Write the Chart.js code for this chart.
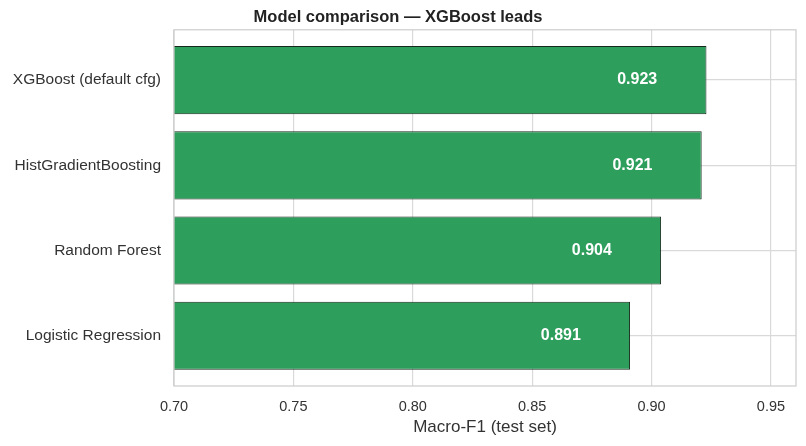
<!DOCTYPE html>
<html lang="en">
<head>
  <meta charset="UTF-8" />
  <title>Model comparison</title>
  <script src="https://cdn.jsdelivr.net/npm/chart.js"></script>
  <style>
    html, body { margin: 0; padding: 0; background: #fff; }
    #wrap { width: 806px; height: 446px; }
  </style>
</head>
<body>
  <div id="wrap"><canvas id="modelChart"></canvas></div>

  <script>
    // data (top to bottom)
    const models = ['XGBoost (default cfg)', 'HistGradientBoosting', 'Random Forest', 'Logistic Regression'];
    const macroF1 = [0.923, 0.921, 0.904, 0.891];
    const xTicks = [0.70, 0.75, 0.80, 0.85, 0.90, 0.95];

    const barColor = '#2e9e5c';
    const gridColor = '#d9d9d9';
    const textColor = '#333333';
    const fontFamily = '"Liberation Sans", Arial, sans-serif';

    // light grey box round the plot, plus values printed inside the bars
    const frameAndLabels = {
      id: 'frameAndLabels',
      afterDatasetsDraw(chart) {
        const { ctx, chartArea: a, scales } = chart;
        ctx.save();
        ctx.strokeStyle = '#cccccc';
        ctx.lineWidth = 1.2;
        ctx.strokeRect(a.left, a.top, a.right - a.left, a.bottom - a.top);

        ctx.fillStyle = '#ffffff';
        ctx.font = 'bold 16px ' + fontFamily;
        ctx.textAlign = 'center';
        ctx.textBaseline = 'middle';
        macroF1.forEach((v, i) => {
          const x = scales.x.getPixelForValue(v - 0.029);
          const y = scales.y.getPixelForValue(i);
          ctx.fillText(v.toFixed(3), x, y);
        });
        ctx.restore();
      }
    };

    const ctx = document.getElementById('modelChart').getContext('2d');
    new Chart(ctx, {
      type: 'bar',
      data: {
        datasets: [{
          data: macroF1.map((v, i) => ({ x: v, y: i })),
          backgroundColor: barColor,
          borderColor: '#14291c',
          borderWidth: 1,
          borderSkipped: false,
          categoryPercentage: 1.0,
          barPercentage: 0.8,
          clip: 0
        }]
      },
      options: {
        indexAxis: 'y',
        responsive: true,
        maintainAspectRatio: false,
        animation: false,
        layout: { padding: { left: 0, right: 10, top: 0, bottom: 0 } },
        plugins: {
          legend: { display: false },
          tooltip: { enabled: false },
          title: {
            display: true,
            text: 'Model comparison — XGBoost leads',
            color: '#222222',
            font: { family: fontFamily, size: 16.5, weight: 'bold' },
            padding: { top: 8, bottom: 2 }
          }
        },
        scales: {
          x: {
            type: 'linear',
            min: 0.70,
            max: 0.9605,
            afterBuildTicks: s => { s.ticks = xTicks.map(v => ({ value: v })); },
            afterFit: s => { s.height = 60; },
            ticks: {
              color: textColor,
              font: { family: fontFamily, size: 14.5 },
              padding: 12,
              callback: v => Number(v).toFixed(2)
            },
            grid: { color: gridColor, lineWidth: 1.2, drawTicks: false },
            border: { display: false },
            title: {
              display: true,
              text: 'Macro-F1 (test set)',
              color: textColor,
              font: { family: fontFamily, size: 17 },
              padding: { top: 2, bottom: 8 }
            }
          },
          y: {
            type: 'linear',
            reverse: true,
            offset: false,
            min: -0.59,
            max: 3.59,
            afterBuildTicks: s => { s.ticks = models.map((_, i) => ({ value: i })); },
            afterFit: s => { s.width = 174; },
            ticks: {
              color: textColor,
              font: { family: fontFamily, size: 15.5 },
              padding: 13,
              callback: v => models[v]
            },
            grid: { color: gridColor, lineWidth: 1.2, drawTicks: false, offset: false },
            border: { display: false }
          }
        }
      },
      plugins: [frameAndLabels]
    });
  </script>
</body>
</html>
